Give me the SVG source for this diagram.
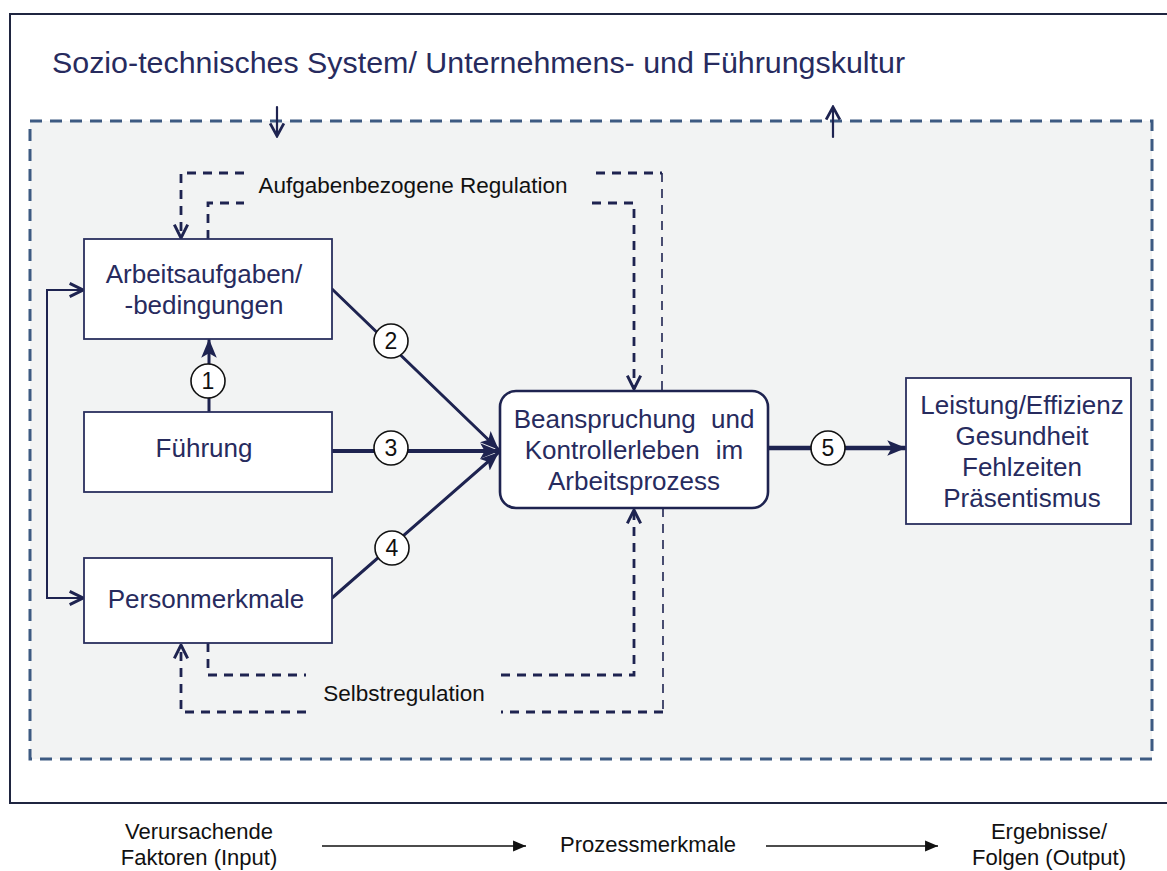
<svg xmlns="http://www.w3.org/2000/svg" width="1167" height="871" viewBox="0 0 1167 871">
<style>
.box{fill:#fff;stroke:#2a2f5e;stroke-width:1.8}
.bt{font-family:"Liberation Sans",Arial,sans-serif;font-size:26px;fill:#272b5e;text-anchor:middle}
.lbl{font-family:"Liberation Sans",Arial,sans-serif;font-size:22.5px;fill:#111;text-anchor:middle}
.num{font-family:"Liberation Sans",Arial,sans-serif;font-size:23px;fill:#111;text-anchor:middle}
.circ{fill:#fff;stroke:#111;stroke-width:1.6}
.solid{fill:none;stroke:#1e2350;stroke-linecap:round}
.dash{fill:none;stroke:#1e2350;stroke-width:2.8;stroke-dasharray:9 7}
.dashthin{fill:none;stroke:#1e2350;stroke-width:1.6;stroke-dasharray:9 7}
.bot{font-family:"Liberation Sans",Arial,sans-serif;font-size:22px;fill:#111;text-anchor:middle}
</style>
<defs>
<marker id="chev" markerUnits="userSpaceOnUse" markerWidth="16" markerHeight="16" refX="11" refY="6" orient="auto" viewBox="0 0 12 12">
<path d="M1,1 L11,6 L1,11" fill="none" stroke="#1e2350" stroke-width="2.2"/>
</marker>
<marker id="fill" markerUnits="userSpaceOnUse" markerWidth="20" markerHeight="16" refX="16" refY="7" orient="auto" viewBox="0 0 18 14">
<path d="M0,0 L17,7 L0,14 L4,7 Z" fill="#1e2350"/>
</marker>
<marker id="fillsmall" markerUnits="userSpaceOnUse" markerWidth="14" markerHeight="12" refX="12" refY="5" orient="auto" viewBox="0 0 13 10">
<path d="M0,0 L12,5 L0,10 Z" fill="#111"/>
</marker>
<marker id="tri" markerUnits="userSpaceOnUse" markerWidth="16" markerHeight="16" refX="12" refY="7" orient="auto" viewBox="0 0 14 14">
<path d="M1,1 L12,7 L1,13" fill="none" stroke="#1e2350" stroke-width="2.4"/>
</marker>
</defs>

<g id="frame">
<rect x="10" y="14" width="1170" height="789" fill="#fff" stroke="#1f2540" stroke-width="2"/>
<text x="52" y="73" font-family="'Liberation Sans',Arial,sans-serif" font-size="30.4" fill="#272b5e">Sozio-technisches System/ Unternehmens- und Führungskultur</text>
</g>

<g id="system">
<rect x="30" y="121" width="1122" height="638" fill="#f2f3f3" stroke="#3d5a82" stroke-width="3" stroke-dasharray="12 8"/>
</g>

<g id="connectors">
<path class="solid" stroke-width="2.2" d="M277,107 L277,136" marker-end="url(#tri)"/>
<path class="solid" stroke-width="2.2" d="M833,137 L833,107" marker-end="url(#tri)"/>
<path class="solid" stroke-width="2" d="M83,290 L47,290 L47,598 L83,598"/>
<path class="solid" stroke-width="2" d="M60,290 L83,290" marker-end="url(#chev)"/>
<path class="solid" stroke-width="2" d="M60,598 L83,598" marker-end="url(#chev)"/>
<path class="solid" stroke-width="3" d="M209,412 L209,340" marker-end="url(#fill)"/>
<path class="solid" stroke-width="3" d="M332,289 L498,449" marker-end="url(#fill)"/>
<path class="solid" stroke-width="4" d="M332,451 L498,451" marker-end="url(#fill)"/>
<path class="solid" stroke-width="3" d="M332,598 L498,453" marker-end="url(#fill)"/>
<path class="solid" stroke-width="4.5" d="M768,448 L905,448" marker-end="url(#fill)"/>
<path class="dash" d="M244,173 L181,173 L181,238" marker-end="url(#chev)"/>
<path class="dash" d="M208,239 L208,203 L244,203"/>
<path class="dash" d="M596,173 L662,173"/>
<path class="dashthin" d="M662,173 L662,391"/>
<path class="dash" d="M592,203 L634,203 L634,389" marker-end="url(#chev)"/>
<path class="dash" d="M208,643 L208,675 L306,675"/>
<path class="dash" d="M501,675 L634,675 L634,510" marker-end="url(#chev)"/>
<path class="dashthin" d="M663,508 L663,712"/>
<path class="dash" d="M663,712 L501,712"/>
<path class="dash" d="M306,712 L181,712 L181,645" marker-end="url(#chev)"/>
</g>

<g id="n-arbeit">
<rect class="box" x="84" y="239" width="248" height="100"/>
<text class="bt" x="204" y="283">Arbeitsaufgaben/</text>
<text class="bt" x="204" y="314">-bedingungen</text>
</g>
<g id="n-fuehrung">
<rect class="box" x="84" y="412" width="248" height="80"/>
<text class="bt" x="204" y="457">Führung</text>
</g>
<g id="n-person">
<rect class="box" x="84" y="558" width="248" height="85"/>
<text class="bt" x="206" y="608">Personmerkmale</text>
</g>
<g id="n-beanspruchung">
<rect x="500" y="391" width="268" height="117" rx="16" fill="#fff" stroke="#1e2350" stroke-width="2.6"/>
<text class="bt" x="634" y="428" word-spacing="8">Beanspruchung und</text>
<text class="bt" x="634" y="459" word-spacing="9">Kontrollerleben im</text>
<text class="bt" x="634" y="490">Arbeitsprozess</text>
</g>
<g id="n-ergebnis">
<rect class="box" x="906" y="378" width="225" height="146"/>
<text class="bt" x="1022" y="414">Leistung/Effizienz</text>
<text class="bt" x="1022" y="445">Gesundheit</text>
<text class="bt" x="1022" y="476">Fehlzeiten</text>
<text class="bt" x="1022" y="507">Präsentismus</text>
</g>

<g id="labels">
<text class="lbl" x="413" y="193">Aufgabenbezogene Regulation</text>
<text class="lbl" x="404" y="701">Selbstregulation</text>
</g>

<g id="numbers">
<circle class="circ" cx="208" cy="381" r="17"/><text class="num" x="208" y="389">1</text>
<circle class="circ" cx="391" cy="341" r="17"/><text class="num" x="391" y="349">2</text>
<circle class="circ" cx="391" cy="448" r="17"/><text class="num" x="391" y="456">3</text>
<circle class="circ" cx="392" cy="548" r="17"/><text class="num" x="392" y="556">4</text>
<circle class="circ" cx="828" cy="448" r="17"/><text class="num" x="828" y="456">5</text>
</g>

<g id="legend">
<text class="bot" x="199" y="839">Verursachende</text>
<text class="bot" x="199" y="865">Faktoren (Input)</text>
<path d="M322,846 L526,846" stroke="#111" stroke-width="1.6" fill="none" marker-end="url(#fillsmall)"/>
<text class="bot" x="648" y="852">Prozessmerkmale</text>
<path d="M766,846 L938,846" stroke="#111" stroke-width="1.6" fill="none" marker-end="url(#fillsmall)"/>
<text class="bot" x="1049" y="839">Ergebnisse/</text>
<text class="bot" x="1049" y="865">Folgen (Output)</text>
</g>
</svg>
